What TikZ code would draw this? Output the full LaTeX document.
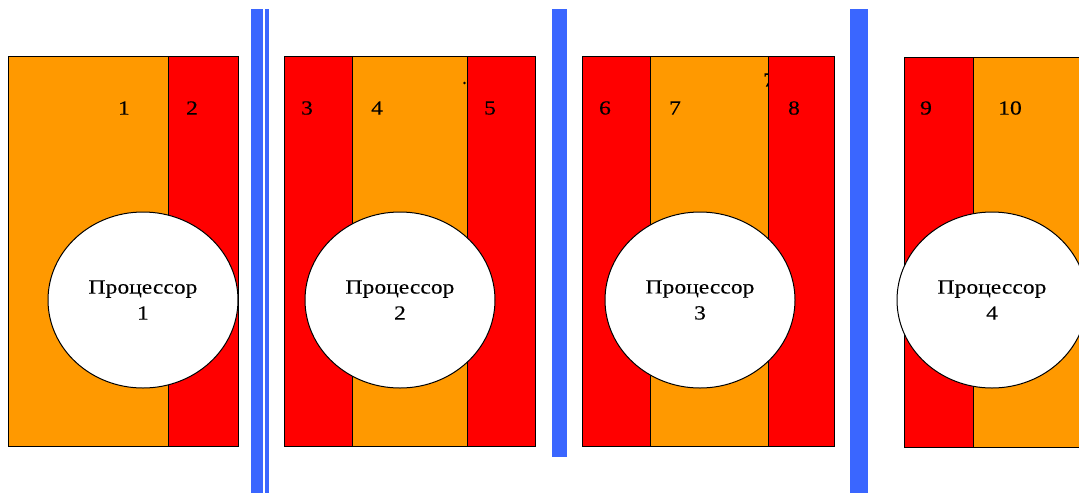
\documentclass[tikz,border=0pt]{standalone}
\usepackage{fontspec}
\setmainfont{Liberation Serif}[FakeStretch=1.18,FakeBold=0.2]
\usetikzlibrary{shapes.geometric}
\definecolor{orng}{HTML}{FF9900}
\definecolor{rd}{HTML}{FF0000}
\definecolor{blu}{HTML}{3A66FF}
\begin{document}
\begin{tikzpicture}[x=1pt,y=-1pt,
  stripe/.style={draw=black,line width=1pt},
  ostripe/.style={stripe,fill=orng},
  rstripe/.style={stripe,fill=rd},
  proc/.style={ellipse,draw=black,fill=white,line width=1pt,minimum width=190pt,minimum height=176pt,inner sep=0pt,align=center,font=\fontsize{20}{26}\selectfont},
  num/.style={inner sep=0pt,font=\fontsize{20}{24}\selectfont}]
\useasboundingbox (0,0) rectangle (1079,493);
\clip (0,0) rectangle (1079,493);
% panel 1
\draw[ostripe] (8,56) rectangle (168,446);
\draw[rstripe] (168,56) rectangle (238,446);
\node[num] (n1) at (124,108) {1};
\node[num] (n2) at (192,108) {2};
\node[proc] (p1) at (143,300) {Процессор\\1};
% bar 1
\fill[blu] (251,9) rectangle (263,493);
\fill[blu] (265,9) rectangle (269,493);
% panel 2
\draw[rstripe] (284,56) rectangle (352,446);
\draw[ostripe] (352,56) rectangle (467,446);
\draw[rstripe] (467,56) rectangle (535,446);
\fill[black] (464.5,83) circle (1.3pt);
\node[num] (n3) at (307,108) {3};
\node[num] (n4) at (377,108) {4};
\node[num] (n5) at (490,108) {5};
\node[proc] (p2) at (400,300) {Процессор\\2};
% bar 2
\fill[blu] (552,9) rectangle (567,457);
% panel 3
\draw[rstripe] (582,56) rectangle (650,446);
\draw[ostripe] (650,56) rectangle (768,446);
\node[num] (n7b) at (769,80) {7};
\draw[rstripe] (768,56) rectangle (834,446);
\node[num] (n6) at (605,108) {6};
\node[num] (n7) at (675,108) {7};
\node[num] (n8) at (794,108) {8};
\node[proc] (p3) at (700,300) {Процессор\\3};
% bar 3
\fill[blu] (850,9) rectangle (868,493);
% panel 4
\draw[rstripe] (904,57) rectangle (973,447);
\draw[ostripe] (973,57) rectangle (1100,447);
\node[num] (n9) at (926,108) {9};
\node[num] (n10) at (1010,108) {10};
\node[proc] (p4) at (992,300) {Процессор\\4};
\end{tikzpicture}
\end{document}
